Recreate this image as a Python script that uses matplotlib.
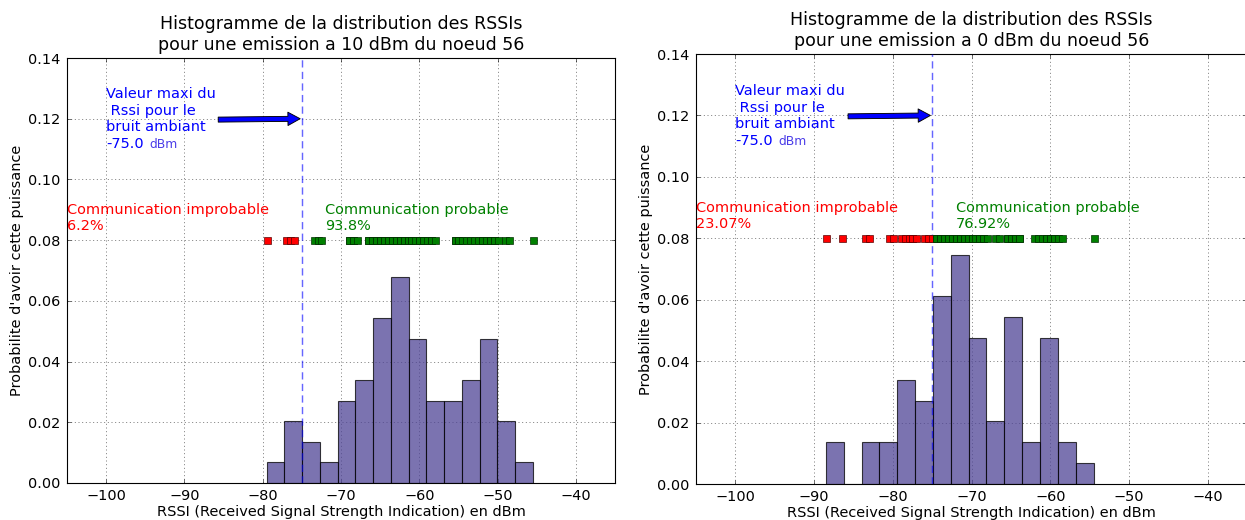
import matplotlib
matplotlib.use("Agg")
import matplotlib.pyplot as plt

# RSSI samples (dBm) received from node 56, one list per emission power
emission_power_dbm = [10, 0]
rssi_10dbm = [
    -79.5,
    -77.0, -76.5, -76.0,
    -73.5, -73.0,
    -72.5,
    -69.0, -69.0, -68.5, -68.5,
    -68.0, -66.5, -66.5, -66.0, -66.0,
    -65.5, -65.5, -65.0, -65.0, -64.5, -64.5, -64.0, -64.0,
    -63.5, -63.5, -63.0, -63.0, -62.5, -62.5, -62.0, -62.0, -61.5, -61.5,
    -61.0, -61.0, -60.5, -60.0, -60.0, -59.5, -59.5,
    -59.0, -58.5, -58.5, -58.0,
    -55.5, -55.5, -55.0, -55.0,
    -54.5, -54.0, -53.5, -53.0, -52.5,
    -52.0, -52.0, -51.5, -51.0, -51.0, -50.5, -50.5,
    -50.0, -49.0, -48.5,
    -45.5,
]
rssi_0dbm = [
    -88.5, -86.5,
    -83.5, -83.0,
    -80.5, -80.0,
    -79.0, -78.5, -78.0, -77.5, -77.5,
    -77.0, -76.0, -75.5, -75.0,
    -74.5, -74.5, -74.0, -74.0, -73.5, -73.5, -73.0, -73.0, -73.0,
    -72.5, -72.5, -72.0, -72.0, -71.5, -71.5, -71.0, -71.0, -71.0, -70.5, -70.5,
    -70.0, -70.0, -69.5, -69.0, -69.0, -68.5, -68.5,
    -68.0, -67.0, -66.5,
    -65.5, -65.5, -65.0, -65.0, -64.5, -64.5, -64.0, -64.0,
    -62.0, -61.5,
    -61.0, -60.5, -60.5, -60.0, -60.0, -59.5, -59.5,
    -59.0, -58.5,
    -54.5,
]
samples = [rssi_10dbm, rssi_0dbm]

# maximum RSSI of the ambient noise
noise_max_dbm = -75.0
pct_improbable = ["6.2%", "23.07%"]
pct_probable = ["93.8%", "76.92%"]

n_bins = 15
x_limits = (-105, -35)
y_limits = (0.0, 0.14)
marker_row = 0.08

plt.rcParams.update({
    "font.family": "DejaVu Sans",
    "font.size": 13,
    "xtick.labelsize": 13,
    "ytick.labelsize": 13,
    "xtick.direction": "in",
    "ytick.direction": "in",
    "xtick.top": True,
    "ytick.right": True,
    "xtick.major.size": 4,
    "ytick.major.size": 4,
    "xtick.major.width": 0.5,
    "ytick.major.width": 0.5,
    "xtick.major.pad": 5,
    "ytick.major.pad": 6,
    "axes.linewidth": 1.0,
})

W, H = 1245, 520
fig = plt.figure(figsize=(W / 80, H / 80), dpi=80, facecolor="white")
rects = [
    [67 / W, 37 / H, 548 / W, 425 / H],
    [696 / W, 36 / H, 551 / W, 430 / H],
]

for rect, power, data, p_bad, p_good in zip(rects, emission_power_dbm, samples,
                                            pct_improbable, pct_probable):
    ax = fig.add_axes(rect)
    ax.hist(data, bins=n_bins, density=True, facecolor="#4f4496",
            edgecolor="black", alpha=0.75, linewidth=1.0, zorder=2)
    ax.axvline(noise_max_dbm, color="blue", linestyle=(0, (5, 3)), linewidth=1.3,
               alpha=0.6, zorder=3)

    weak = [v for v in data if v <= noise_max_dbm]
    strong = [v for v in data if v > noise_max_dbm]
    ax.plot(weak, [marker_row] * len(weak), "s", color="red", markersize=6.3,
            markeredgecolor="#500000", markeredgewidth=0.6, zorder=4)
    ax.plot(strong, [marker_row] * len(strong), "s", color="green", markersize=6.3,
            markeredgecolor="#002800", markeredgewidth=0.6, zorder=4)

    # noise threshold note, its value and the arrow pointing at the dashed line
    ax.text(-100, 0.1160, "Valeur maxi du\n Rssi pour le\nbruit ambiant",
            color="blue", fontsize=13)
    ax.text(-100, 0.1105, "%.1f" % noise_max_dbm, color="blue", fontsize=13)
    ax.annotate("dBm", xy=(-100, 0.1105), xytext=(39, 0), textcoords="offset points",
                color="#4a3ce8", fontsize=11)
    ax.annotate("", xy=(noise_max_dbm, 0.12), xytext=(-85.9, 0.1197),
                arrowprops=dict(facecolor="blue", edgecolor="black", linewidth=0.8,
                                width=4.5, headwidth=12, headlength=11, shrink=0.02))

    ax.text(x_limits[0], 0.0833, "Communication improbable\n" + p_bad,
            color="red", fontsize=13)
    ax.text(noise_max_dbm + 3, 0.0833, "Communication probable\n" + p_good,
            color="green", fontsize=13)

    ax.set_xlim(*x_limits)
    ax.set_ylim(*y_limits)
    ax.grid(True, linestyle=(0, (1.5, 4)), color="0.25", linewidth=0.6)
    ax.set_axisbelow(True)
    ax.set_xlabel("RSSI (Received Signal Strength Indication) en dBm", fontsize=13,
                  labelpad=2)
    ax.set_ylabel("Probabilite d'avoir cette puissance", fontsize=13)
    ax.set_title("Histogramme de la distribution des RSSIs\n"
                 "pour une emission a %d dBm du noeud 56" % power, fontsize=15.6,
                 pad=7)

fig.savefig("out.png", dpi=80, facecolor="white")
